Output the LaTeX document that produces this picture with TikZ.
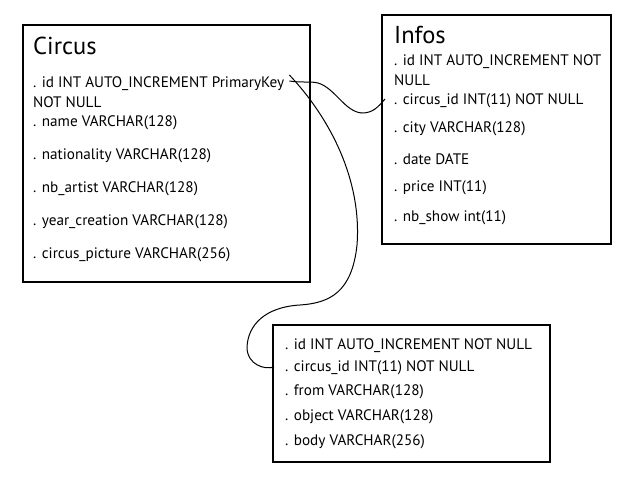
\documentclass[tikz,border=0pt]{standalone}
\usepackage{fontspec}
\setmainfont{PT Sans}
\begin{document}
\begin{tikzpicture}[x=1pt,y=-1pt,
  tbl/.style={draw,line width=1.3pt},
  row/.style={anchor=west,inner sep=0pt,font=\fontsize{15.2}{17}\selectfont},
  ttl/.style={anchor=west,inner sep=0pt,font=\fontsize{24.5}{27}\selectfont},
  link/.style={line width=1pt}]
\useasboundingbox (0,0) rectangle (623,483);
% boxes
\draw[tbl] (23,25) rectangle (310,282);
\draw[tbl] (382,15) rectangle (611,244);
\draw[tbl] (273,325) rectangle (550,462);
% Circus
\node[ttl] (ct) at (33,46) {Circus};
\node[row] (c1) at (33,84) {. id INT AUTO\_INCREMENT PrimaryKey};
\node[row] (c1b) at (33,102) {NOT NULL};
\node[row] (c2) at (33,123) {. name VARCHAR(128)};
\node[row] (c3) at (33,156) {. nationality VARCHAR(128)};
\node[row] (c4) at (33,189) {. nb\_artist VARCHAR(128)};
\node[row] (c5) at (33,222) {. year\_creation VARCHAR(128)};
\node[row] (c6) at (33,255) {. circus\_picture VARCHAR(256)};
% Infos
\node[ttl] (it) at (394,35) {Infos};
\node[row] (i1) at (394,62) {. id INT AUTO\_INCREMENT NOT};
\node[row] (i1b) at (394,80) {NULL};
\node[row] (i2) at (394,101) {. circus\_id INT(11) NOT NULL};
\node[row] (i3) at (394,129) {. city VARCHAR(128)};
\node[row] (i4) at (394,159) {. date DATE};
\node[row] (i5) at (394,188) {. price INT(11)};
\node[row] (i6) at (394,218) {. nb\_show int(11)};
% third
\node[row] (m1) at (285,346) {. id INT AUTO\_INCREMENT NOT NULL};
\node[row] (m2) at (285,368) {. circus\_id INT(11) NOT NULL};
\node[row] (m3) at (285,392) {. from VARCHAR(128)};
\node[row] (m4) at (285,417) {. object VARCHAR(128)};
\node[row] (m5) at (285,442) {. body VARCHAR(256)};
% connectors
\coordinate (s1) at ([xshift=5pt,yshift=3pt]c1.east);
\coordinate (s2) at ([xshift=5pt,yshift=9pt]c1.east);
\coordinate (e1) at ([xshift=-9pt,yshift=2pt]i2.west);
\coordinate (e2) at ([xshift=-11pt,yshift=1pt]m2.west);
\draw[link] (s1) .. controls (302,83) and (310,81) .. (318,83)
  .. controls (335,88) and (345,112) .. (362,113)
  .. controls (373,113) and (378,107) .. (e1);
\draw[link] (s2) .. controls (330,118) and (362,180) .. (357,245)
  .. controls (352,292) and (330,303) .. (300,305)
  .. controls (265,307) and (248,325) .. (247,347)
  .. controls (247,365) and (265,370) .. (e2);
\end{tikzpicture}
\end{document}
